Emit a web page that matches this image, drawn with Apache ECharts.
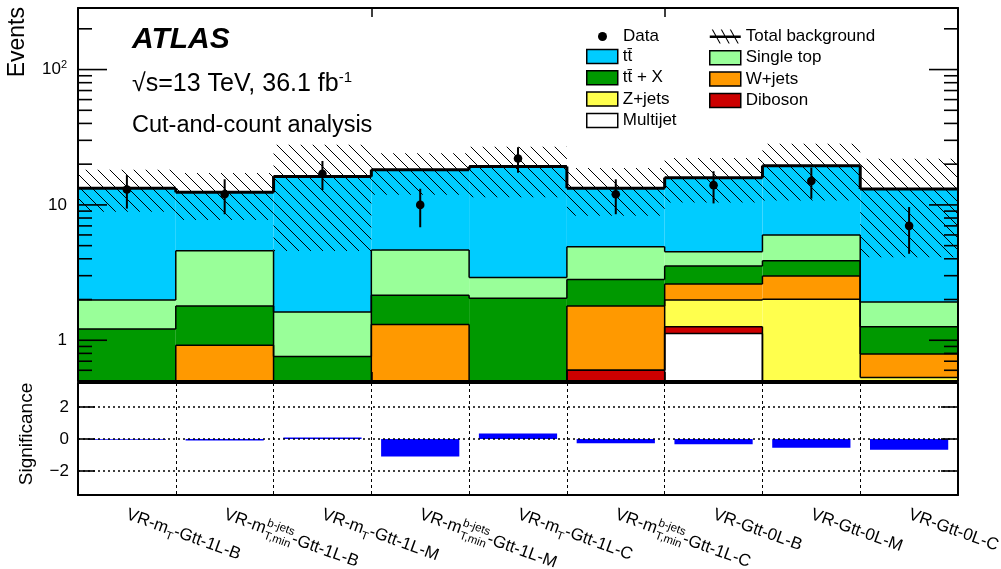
<!DOCTYPE html>
<html>
<head>
<meta charset="utf-8">
<script src="https://cdn.jsdelivr.net/npm/echarts@6/dist/echarts.min.js"></script>
<style>
html, body { margin: 0; padding: 0; background: #fff; }
#chart { width: 1001px; height: 569px; }
</style>
</head>
<body>
<div id="chart"></div>
<script>
// Validation-region yields, observed data and significance per region
const regions = [
  'VR-m_T-Gtt-1L-B',
  'VR-m_{T,min}^{b-jets}-Gtt-1L-B',
  'VR-m_T-Gtt-1L-M',
  'VR-m_{T,min}^{b-jets}-Gtt-1L-M',
  'VR-m_T-Gtt-1L-C',
  'VR-m_{T,min}^{b-jets}-Gtt-1L-C',
  'VR-Gtt-0L-B',
  'VR-Gtt-0L-M',
  'VR-Gtt-0L-C'
];

const multijet  = [0, 0, 0, 0, 0, 0, 1.12, 0, 0];
const diboson   = [0, 0, 0, 0, 0, 0.6, 0.14, 0, 0];
const zjets     = [0, 0, 0, 0, 0, 0, 0.72, 2.01, 0.53];
const wjets     = [0, 0.92, 0, 1.31, 0, 1.19, 0.62, 0.97, 0.26];
const ttx       = [1.21, 0.87, 0.76, 0.84, 2.04, 1.02, 0.93, 0.89, 0.47];
const singleTop = [0.77, 2.8, 0.86, 2.49, 0.87, 2.1, 0.98, 2.13, 0.66];
const ttbar     = [11.32, 7.81, 14.58, 13.56, 16.29, 8.39, 11.39, 13.5, 11.18];

// total background uncertainty band (lower / upper edge)
const bkgLow  = [8.9, 7.74, 4.56, 11.9, 11.4, 8.3, 10.4, 10.8, 4.1];
const bkgHigh = [18.2, 17.2, 27.8, 24.1, 26.9, 18.7, 22.2, 28.3, 21.9];

const observed = [13, 12, 17, 10, 22, 12, 14, 15, 7];
const significance = [-0.05, -0.1, 0.1, -1.1, 0.35, -0.27, -0.33, -0.54, -0.67];

// y-axis decade labels of the upper panel
const decadeLabels = { 1: '{m|1}', 10: '{m|10}', 100: '{m|10}{e|2}' };

const FONT = "'Liberation Sans', Arial, Helvetica, sans-serif";
const Y_MIN = 0.5, Y_MAX = 285;
const clampY = v => Math.max(v, Y_MIN);

// hatch pattern for the background uncertainty
const hatch = document.createElement('canvas');
hatch.width = 12; hatch.height = 12;
(function () {
  const c = hatch.getContext('2d');
  c.strokeStyle = '#000';
  c.lineWidth = 1;
  c.beginPath();
  for (const k of [-12, 0, 12]) { c.moveTo(k, 0); c.lineTo(k + 12, 12); }
  c.stroke();
})();

// stacking order, bottom to top
const layers = [
  { name: 'Multijet', values: multijet, color: '#ffffff' },
  { name: 'Diboson', values: diboson, color: '#cc0000' },
  { name: 'Z+jets', values: zjets, color: '#ffff4d' },
  { name: 'W+jets', values: wjets, color: '#ff9900' },
  { name: 'tt\u0304 + X', values: ttx, color: '#009900' },
  { name: 'Single top', values: singleTop, color: '#99ff99' },
  { name: 'tt\u0304', values: ttbar, color: '#00ccff' }
];

function formatRegion(name) {
  return '{t|' + name
    .replace('m_{T,min}^{b-jets}', 'm}{sup|b-jets}{sub|T,min}{t|')
    .replace('m_T', 'm}{sub|T}{t|') + '}';
}

function binEdges(api, i) {
  const w = api.size([1, 0])[0];
  const cx = api.coord([i, Y_MIN])[0];
  return [cx - w / 2, cx + w / 2, w];
}

function layerRenderer(color) {
  return function (params, api) {
    const i = api.value(0), lo = api.value(1), hi = api.value(2), prev = api.value(3);
    const [x0, x1, w] = binEdges(api, i);
    const yLo = api.coord([i, clampY(lo)])[1];
    const yHi = api.coord([i, clampY(hi)])[1];
    const yPrev = api.coord([i, clampY(prev)])[1];
    const children = [];
    if (yLo - yHi > 0.01) {
      children.push({ type: 'rect', z2: 0, shape: { x: x0, y: yHi, width: w, height: yLo - yHi }, style: { fill: color } });
    }
    if (hi > Y_MIN) {
      children.push({ type: 'line', z2: 5, shape: { x1: x0, y1: yHi, x2: x1, y2: yHi }, style: { stroke: '#000', lineWidth: 1.5 } });
    }
    if (Math.abs(yPrev - yHi) > 0.01) {
      children.push({ type: 'line', z2: 5, shape: { x1: x0, y1: yPrev, x2: x0, y2: yHi }, style: { stroke: '#000', lineWidth: 1.5 } });
    }
    return { type: 'group', children };
  };
}

const series = [];
let base = regions.map(() => 0);
layers.forEach(layer => {
  const top = base.map((b, i) => b + layer.values[i]);
  const rows = regions.map((_, i) => [i, base[i], top[i], i > 0 ? top[i - 1] : top[i]]);
  series.push({
    type: 'custom', name: layer.name, xAxisIndex: 0, yAxisIndex: 0, z: 2,
    itemStyle: { color: layer.color },
    encode: { x: 0, y: [1, 2] },
    renderItem: layerRenderer(layer.color),
    data: rows, silent: true
  });
  base = top;
});
const totalBkg = base;

// total background: hatched uncertainty band plus thick outline
series.push({
  type: 'custom', name: 'Total background', xAxisIndex: 0, yAxisIndex: 0, z: 3,
  itemStyle: { color: '#000' },
  encode: { x: 0, y: [1, 2] },
  data: regions.map((_, i) => [i, bkgLow[i], bkgHigh[i], totalBkg[i], i > 0 ? totalBkg[i - 1] : totalBkg[i]]),
  renderItem: function (params, api) {
    const i = api.value(0);
    const [x0, x1, w] = binEdges(api, i);
    const yb = api.coord([i, clampY(api.value(1))])[1];
    const yt = api.coord([i, api.value(2)])[1];
    const yTot = api.coord([i, api.value(3)])[1];
    const yPrev = api.coord([i, api.value(4)])[1];
    return {
      type: 'group', children: [
        { type: 'rect', z2: 1, shape: { x: x0, y: yt, width: w, height: yb - yt }, style: { fill: { image: hatch, repeat: 'repeat' } } },
        { type: 'line', z2: 8, shape: { x1: x0, y1: yTot, x2: x1, y2: yTot }, style: { stroke: '#000', lineWidth: 3 } },
        { type: 'line', z2: 8, shape: { x1: x0, y1: yPrev, x2: x0, y2: yTot }, style: { stroke: '#000', lineWidth: 3 } }
      ]
    };
  },
  silent: true
});

// observed data with Poisson errors
series.push({
  type: 'custom', name: 'Data', xAxisIndex: 0, yAxisIndex: 0, z: 4,
  itemStyle: { color: '#000' },
  encode: { x: 0, y: 1 },
  data: observed.map((n, i) => [i, n]),
  renderItem: function (params, api) {
    const i = api.value(0), n = api.value(1), e = Math.sqrt(n);
    const p = api.coord([i, n]);
    const pUp = api.coord([i, n + e]);
    const pDn = api.coord([i, clampY(n - e)]);
    return {
      type: 'group', children: [
        { type: 'line', shape: { x1: p[0], y1: pUp[1], x2: p[0], y2: pDn[1] }, style: { stroke: '#000', lineWidth: 2 } },
        { type: 'circle', shape: { cx: p[0], cy: p[1], r: 4.3 }, style: { fill: '#000' } }
      ]
    };
  },
  silent: true
});

// log-axis tick marks on both sides of the upper panel
const tickVals = [];
for (let d = 0.1; d <= 100; d *= 10) {
  for (let k = 1; k <= 9; k++) {
    const v = +(k * d).toPrecision(3);
    if (v >= Y_MIN && v <= Y_MAX) tickVals.push([0, v, k === 1 ? 1 : 0]);
  }
}
series.push({
  type: 'custom', xAxisIndex: 0, yAxisIndex: 0, z: 10, silent: true,
  encode: { x: 0, y: 1 },
  data: tickVals,
  renderItem: function (params, api) {
    const cs = params.coordSys;
    const y = api.coord([0, api.value(1)])[1];
    const len = api.value(2) ? 29 : 14;
    const st = { stroke: '#000', lineWidth: 1.6 };
    return {
      type: 'group', children: [
        { type: 'line', shape: { x1: cs.x, y1: y, x2: cs.x + len, y2: y }, style: st },
        { type: 'line', shape: { x1: cs.x + cs.width - len, y1: y, x2: cs.x + cs.width, y2: y }, style: st }
      ]
    };
  }
});

series.push({
  type: 'bar', name: 'Significance', xAxisIndex: 2, yAxisIndex: 2, z: 2,
  barWidth: '80%', itemStyle: { color: '#0000ff' },
  data: significance, silent: true
});

const frameLine = { show: true, onZero: false, lineStyle: { color: '#000', width: 2 } };
const legendText = { fontSize: 17, color: '#000', fontFamily: FONT };

const option = {
  animation: false,
  backgroundColor: '#fff',
  grid: [
    { left: 78, top: 8, width: 880, height: 373, containLabel: false, outerBoundsMode: 'none' },
    { left: 78, top: 383, width: 880, height: 112, containLabel: false, outerBoundsMode: 'none' }
  ],
  xAxis: [
    { gridIndex: 0, type: 'category', data: regions, position: 'bottom', z: 10,
      axisLine: frameLine, axisTick: { show: true, inside: true, length: 9, lineStyle: { color: '#000', width: 1.5 } },
      axisLabel: { show: false }, splitLine: { show: false } },
    { gridIndex: 0, type: 'category', data: regions, position: 'top', z: 10,
      axisLine: frameLine, axisTick: { show: true, inside: true, length: 9, lineStyle: { color: '#000', width: 1.5 } },
      axisLabel: { show: false }, splitLine: { show: false } },
    { gridIndex: 1, type: 'category', data: regions, position: 'bottom', z: 10,
      axisLine: frameLine, axisTick: { show: false },
      splitLine: { show: true, lineStyle: { color: '#000', width: 1, type: [3, 3] } },
      axisLabel: {
        interval: 0, rotate: -20, margin: 19, color: '#000', fontFamily: FONT,
        formatter: formatRegion,
        rich: {
          t: { fontSize: 17, fontFamily: FONT, color: '#000', lineHeight: 25, verticalAlign: 'middle' },
          sub: { fontSize: 11.5, fontFamily: FONT, color: '#000', lineHeight: 12, verticalAlign: 'bottom' },
          sup: { fontSize: 11.5, fontFamily: FONT, color: '#000', lineHeight: 8, width: 1, verticalAlign: 'top' }
        }
      } },
    { gridIndex: 1, type: 'category', data: regions, position: 'top', z: 10,
      axisLine: frameLine, axisTick: { show: false }, axisLabel: { show: false }, splitLine: { show: false } }
  ],
  yAxis: [
    { gridIndex: 0, type: 'log', logBase: 10, min: Y_MIN, max: Y_MAX, position: 'left', z: 10,
      axisLine: frameLine, axisTick: { show: false }, splitLine: { show: false }, minorTick: { show: false },
      axisLabel: {
        margin: 11, color: '#000',
        formatter: v => decadeLabels[Math.round(v * 1000) / 1000] || '',
        rich: {
          m: { fontSize: 17, fontFamily: FONT, color: '#000' },
          e: { fontSize: 11, fontFamily: FONT, color: '#000', padding: [0, 0, 10, 0] }
        }
      } },
    { gridIndex: 0, type: 'log', logBase: 10, min: Y_MIN, max: Y_MAX, position: 'right', z: 10,
      axisLine: frameLine, axisTick: { show: false }, axisLabel: { show: false }, splitLine: { show: false } },
    { gridIndex: 1, type: 'value', min: -3.5, max: 3.5, splitNumber: 3, position: 'left', z: 10,
      axisLine: frameLine,
      axisTick: { show: true, inside: true, length: 17, lineStyle: { color: '#000', width: 1.6 } },
      splitLine: { show: true, lineStyle: { color: '#000', width: 1.6, type: [2, 3] } },
      axisLabel: { showMinLabel: false, showMaxLabel: false, margin: 9, fontSize: 17, fontFamily: FONT, color: '#000',
        formatter: v => v < 0 ? '\u2212' + (-v) : String(v) } },
    { gridIndex: 1, type: 'value', min: -3.5, max: 3.5, splitNumber: 3, position: 'right', z: 10,
      axisLine: frameLine,
      axisTick: { show: true, inside: true, length: 17, lineStyle: { color: '#000', width: 1.6 } },
      splitLine: { show: false }, axisLabel: { show: false } }
  ],
  legend: [
    { left: 598, top: 28, padding: 0, orient: 'vertical', selectedMode: false, itemWidth: 31, itemHeight: 9,
      textStyle: legendText, data: [{ name: 'Data', icon: 'circle', itemStyle: { color: '#000', borderWidth: 0 } }] },
    { left: 586, top: 48, padding: 0, orient: 'vertical', selectedMode: false, itemWidth: 31, itemHeight: 14, itemGap: 4.3,
      textStyle: legendText, itemStyle: { borderColor: '#000', borderWidth: 1.5 },
      data: ['tt\u0304', 'tt\u0304 + X', 'Z+jets', 'Multijet'].map(n => ({ name: n, icon: 'rect' })) },
    { left: 709, top: 28, padding: 0, orient: 'vertical', selectedMode: false, itemWidth: 31, itemHeight: 14, itemGap: 4.3,
      textStyle: legendText, itemStyle: { borderColor: '#000', borderWidth: 1.5 },
      data: [
        { name: 'Total background', icon: 'path://M0,6L31,6L31,8.6L0,8.6Z M2,0L3.2,0L11,14L9.8,14Z M11,0L12.2,0L20,14L18.8,14Z M20,0L21.2,0L29,14L27.8,14Z',
          itemStyle: { color: '#000', borderWidth: 0 } },
        { name: 'Single top', icon: 'rect' },
        { name: 'W+jets', icon: 'rect' },
        { name: 'Diboson', icon: 'rect' }
      ] }
  ],
  graphic: [
    { type: 'text', x: 17.5, y: 7, rotation: Math.PI / 2, silent: true,
      style: { text: 'Events', fontSize: 23, fontFamily: FONT, fill: '#000', align: 'right', verticalAlign: 'middle' } },
    { type: 'text', x: 27, y: 434, rotation: Math.PI / 2, silent: true,
      style: { text: 'Significance', fontSize: 19, fontFamily: FONT, fill: '#000', align: 'center', verticalAlign: 'middle' } },
    { type: 'text', x: 132, y: 40, silent: true,
      style: { text: 'ATLAS', fontSize: 30, fontWeight: 'bold', fontStyle: 'italic', fontFamily: FONT, fill: '#000', verticalAlign: 'middle' } },
    { type: 'text', x: 132, y: 84, silent: true,
      style: { text: '{n|\u221As=13 TeV, 36.1 fb}{s|-1}', verticalAlign: 'middle',
        rich: { n: { fontSize: 25, fontFamily: FONT, color: '#000' },
                s: { fontSize: 15, fontFamily: FONT, color: '#000', padding: [0, 0, 12, 0] } } } },
    { type: 'text', x: 132, y: 126, silent: true,
      style: { text: 'Cut-and-count analysis', fontSize: 23.5, fontFamily: FONT, fill: '#000', verticalAlign: 'middle' } }
  ],
  series: series
};

const chart = echarts.init(document.getElementById('chart'), null, { renderer: 'canvas' });
chart.setOption(option);
</script>
</body>
</html>
